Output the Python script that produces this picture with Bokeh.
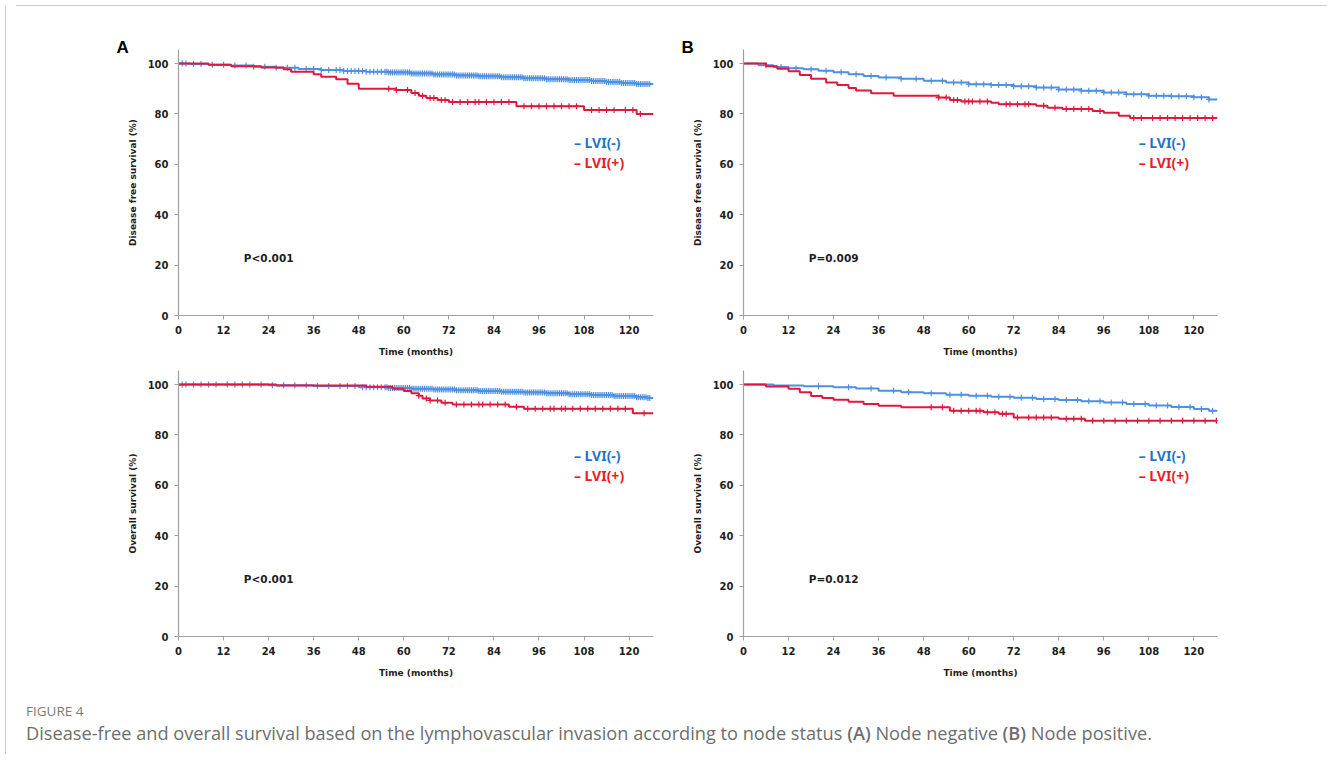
import numpy as np
from bokeh.plotting import figure
from bokeh.models import Range1d, FixedTicker, Label, Div
from bokeh.layouts import row, column
from bokeh.embed import file_html
from bokeh.resources import INLINE

# ---------------- data ----------------
x_ticks = [0, 12, 24, 36, 48, 60, 72, 84, 96, 108, 120]
y_ticks = [0, 20, 40, 60, 80, 100]

# Panel A (node negative) - disease free survival
a_dfs_neg_t = [0, 3, 8, 14, 20, 26, 32, 38, 44, 50, 56, 62, 68, 74, 80, 86, 92, 98, 104, 110, 114, 118, 122, 126.5]
a_dfs_neg_s = [100, 99.8, 99.5, 99.2, 98.8, 98.4, 97.9, 97.5, 97.1, 96.8, 96.5, 96.1, 95.7, 95.3, 95.0, 94.6, 94.2, 93.8, 93.5, 93.1, 92.7, 92.3, 91.9, 91.9]
a_dfs_neg_c = [1, 2, 4, 6, 9, 12, 15, 18, 20, 23, 26, 29, 31, 34, 36, 38, 40, 42, 43, 44, 45, 46, 47, 48, 49, 50, 51, 52, 53, 54,
               55, 55.5, 56, 56.5, 57, 57.5, 58, 58.5, 59, 59.5, 60, 60.5, 61, 61.5, 62, 62.5, 63, 63.5, 64, 64.5,
               65, 65.5, 66, 66.5, 67, 67.5, 68, 68.5, 69, 69.5, 70, 70.5, 71, 71.5, 72, 72.5, 73, 73.5, 74, 74.5,
               75, 75.5, 76, 76.5, 77, 77.5, 78, 78.5, 79, 79.5, 80, 80.5, 81, 81.5, 82, 82.5, 83, 83.5, 84, 84.5,
               85, 85.5, 86, 86.5, 87, 87.5, 88, 88.5, 89, 89.5, 90, 90.5, 91, 91.5, 92, 92.5, 93, 93.5, 94, 94.5,
               95, 95.5, 96, 96.5, 97, 97.5, 98, 98.5, 99, 99.5, 100, 100.5, 101, 101.5, 102, 102.5, 103, 103.5, 104, 104.5,
               105, 105.5, 106, 106.5, 107, 107.5, 108, 108.5, 109, 109.5, 110, 110.5, 111, 111.5, 112, 112.5, 113, 113.5, 114, 114.5,
               115, 115.5, 116, 116.5, 117, 117.5, 118, 118.5, 119, 119.5, 120, 120.5, 121, 121.5, 122, 122.5, 123, 123.5, 124, 124.5, 125, 125.5]
a_dfs_pos_t = [0, 8, 14, 22, 28, 30, 36, 38, 42, 45, 48, 58, 62, 64, 66, 69, 72, 90, 108, 122, 126.5]
a_dfs_pos_s = [100, 99.5, 99, 98.5, 97.8, 96.8, 95.8, 94.8, 93.8, 92, 90, 89.5, 88.3, 87.2, 86.3, 85.6, 84.8, 83.1, 81.6, 80, 80]
a_dfs_pos_c = [56, 58, 61, 63, 65, 67, 68, 70, 71, 73, 75, 77, 79, 80, 82, 84, 86, 88, 92, 94, 96, 98, 100, 102, 104, 106, 110, 112, 114, 116, 119, 121, 123]

# Panel A (node negative) - overall survival
a_os_neg_t = [0, 24, 36, 48, 56, 62, 68, 74, 80, 86, 92, 98, 104, 110, 116, 122, 125, 126.5]
a_os_neg_s = [100, 99.7, 99.4, 99.0, 98.7, 98.4, 98.1, 97.8, 97.5, 97.2, 96.9, 96.6, 96.2, 95.9, 95.5, 95.0, 94.7, 94.7]
a_os_neg_c = [1, 2, 4, 6, 8, 10, 13, 15, 17, 19, 22, 25, 28, 31, 34, 37, 40, 43, 45, 47, 49, 50, 51, 52, 53, 54,
              55, 55.5, 56, 56.5, 57, 57.5, 58, 58.5, 59, 59.5, 60, 60.5, 61, 61.5, 62, 62.5, 63, 63.5, 64, 64.5,
              65, 65.5, 66, 66.5, 67, 67.5, 68, 68.5, 69, 69.5, 70, 70.5, 71, 71.5, 72, 72.5, 73, 73.5, 74, 74.5,
              75, 75.5, 76, 76.5, 77, 77.5, 78, 78.5, 79, 79.5, 80, 80.5, 81, 81.5, 82, 82.5, 83, 83.5, 84, 84.5,
              85, 85.5, 86, 86.5, 87, 87.5, 88, 88.5, 89, 89.5, 90, 90.5, 91, 91.5, 92, 92.5, 93, 93.5, 94, 94.5,
              95, 95.5, 96, 96.5, 97, 97.5, 98, 98.5, 99, 99.5, 100, 100.5, 101, 101.5, 102, 102.5, 103, 103.5, 104, 104.5,
              105, 105.5, 106, 106.5, 107, 107.5, 108, 108.5, 109, 109.5, 110, 110.5, 111, 111.5, 112, 112.5, 113, 113.5, 114, 114.5,
              115, 115.5, 116, 116.5, 117, 117.5, 118, 118.5, 119, 119.5, 120, 120.5, 121, 121.5, 122, 122.5, 123, 123.5, 124, 124.5, 125, 125.5]
a_os_pos_t = [0, 26, 50, 57, 60, 62, 64, 65, 67, 70, 73, 88, 92, 121, 126.5]
a_os_pos_s = [100, 99.6, 99.1, 98.4, 97.5, 96.6, 95.6, 94.5, 93.7, 92.8, 92.1, 91.2, 90.4, 88.6, 88.6]
a_os_pos_c = [64, 66, 67, 69, 71, 74, 76, 78, 80, 81, 83, 85, 87, 90, 93, 95, 97, 99, 100, 102, 103, 105, 107, 109, 111, 113, 115, 117, 119, 124]

# Panel B (node positive) - disease free survival
b_dfs_neg_t = [0, 4, 8, 12, 16, 20, 24, 28, 32, 36, 42, 48, 54, 60, 66, 72, 78, 84, 90, 96, 102, 108, 114, 120, 124, 126.3]
b_dfs_neg_s = [100, 99.3, 98.7, 98.2, 97.8, 97.2, 96.6, 95.8, 95.1, 94.5, 94.0, 93.2, 92.5, 91.8, 91.5, 91.0, 90.5, 89.7, 89.2, 88.5, 87.8, 87.2, 87.0, 86.6, 85.8, 85.8]
b_dfs_neg_c = [6, 10, 14, 18, 22, 26, 30, 34, 38, 42, 46, 50, 53, 56, 58, 60, 62, 64, 66, 68, 70, 72, 74, 76, 78, 80, 82, 84, 86, 88, 90, 92, 94, 96, 98, 100, 102, 104, 106, 108, 110, 112, 114, 116, 118, 120, 122, 124]
b_dfs_pos_t = [0, 6, 9, 12, 15, 18, 22, 25, 28, 30, 34, 40, 52, 55, 58, 66, 68, 78, 81, 85, 93, 96, 100, 103, 126.3]
b_dfs_pos_s = [100, 99, 98, 97, 95.5, 94, 92.5, 91.5, 90.3, 89.3, 88.2, 87.2, 86.5, 85.6, 85.0, 84.5, 83.9, 83.3, 82.5, 82.0, 81.2, 80.5, 79.3, 78.4, 78.4]
b_dfs_pos_c = [52, 54, 56, 57, 59, 60, 61, 63, 65, 70, 71, 73, 75, 76, 80, 83, 86, 88, 90, 92, 95, 104, 106, 109, 111, 113, 115, 117, 119, 121, 123, 125]

# Panel B (node positive) - overall survival
b_os_neg_t = [0, 8, 16, 24, 30, 36, 42, 48, 54, 60, 66, 72, 78, 84, 90, 96, 102, 108, 114, 120, 124, 126.3]
b_os_neg_s = [100, 99.6, 99.3, 99.0, 98.5, 97.6, 97.0, 96.6, 96.0, 95.6, 95.2, 94.8, 94.3, 93.9, 93.4, 92.9, 92.3, 91.7, 91.1, 90.3, 89.6, 89.6]
b_os_neg_c = [20, 28, 34, 40, 44, 50, 55, 58, 62, 65, 68, 71, 74, 77, 80, 83, 86, 89, 92, 95, 98, 101, 104, 107, 110, 113, 116, 119, 122, 125]
b_os_pos_t = [0, 6, 12, 15, 18, 21, 24, 28, 32, 36, 42, 55, 64, 68, 72, 84, 91, 126.3]
b_os_pos_s = [100, 99.2, 98.4, 97, 95.5, 94.7, 94.0, 93.2, 92.3, 91.6, 91.0, 89.6, 89.0, 88.4, 86.9, 86.4, 85.7, 85.7]
b_os_pos_c = [50, 53, 56, 58, 60, 62, 63, 65, 67, 69, 70, 73, 76, 78, 80, 82, 86, 88, 90, 93, 96, 99, 102, 105, 108, 111, 114, 117, 120, 123, 126]

legend_labels = ["\u2013 LVI(-)", "\u2013 LVI(+)"]
p_values = ["P<0.001", "P=0.009", "P<0.001", "P=0.012"]
panel_letters = ["A", "B"]
y_labels = ["Disease free survival (%)", "Overall survival (%)"]
x_label = "Time (months)"

# ---------------- styles ----------------
BLUE = "#4f90e2"
RED = "#e2173d"
BLUE_TXT = "#1f74c8"
RED_TXT = "#ec1c24"
AX = "#a0a0a0"
TICK_FONT = "DejaVu Sans"


def censor_y(t, s, c):
    t = np.asarray(t, float)
    s = np.asarray(s, float)
    idx = np.searchsorted(t, np.asarray(c, float), side="right") - 1
    return s[np.clip(idx, 0, len(s) - 1)]


def panel(width, height, mbl, mbr, mbt, mbb, xend, ylabel, curves, ptext, ly, letter=None):
    p = figure(width=width, height=height, x_range=Range1d(0, xend), y_range=Range1d(0, 105.6),
               output_backend="svg", toolbar_location=None,
               min_border_left=mbl, min_border_right=mbr, min_border_top=mbt, min_border_bottom=mbb)
    p.outline_line_color = None
    p.grid.visible = False
    p.background_fill_color = "white"
    p.border_fill_color = "white"
    for ax in (p.xaxis[0], p.yaxis[0]):
        ax.axis_line_color = AX
        ax.axis_line_width = 1.2
        ax.major_tick_line_color = AX
        ax.major_tick_out = 4
        ax.major_tick_in = 0
        ax.minor_tick_line_color = None
        ax.major_label_text_font = TICK_FONT
        ax.major_label_text_font_style = "bold"
        ax.major_label_text_font_size = "10px"
        ax.major_label_text_color = "#1e1e1e"
        ax.major_label_standoff = 6
        ax.axis_label_text_font = TICK_FONT
        ax.axis_label_text_font_style = "bold"
        ax.axis_label_text_font_size = "9px"
        ax.axis_label_text_color = "#1e1e1e"
    p.xaxis.ticker = FixedTicker(ticks=x_ticks)
    p.yaxis.ticker = FixedTicker(ticks=y_ticks)
    p.xaxis.axis_label = x_label
    p.yaxis.axis_label = ylabel
    p.xaxis.axis_label_standoff = 10
    p.yaxis.axis_label_standoff = 7

    for (t, s, c), col in zip(curves, (BLUE, RED)):
        p.step(x=t, y=s, mode="after", line_color=col, line_width=2)
        p.scatter(x=c, y=censor_y(t, s, c), marker="cross", size=6, line_color=col, line_width=1.2)

    p.add_layout(Label(x=105.3, y=ly[0], text=legend_labels[0], text_color=BLUE_TXT,
                       text_font="Noto Sans", text_font_style="bold", text_font_size="14px",
                       text_baseline="middle"))
    p.add_layout(Label(x=105.3, y=ly[1], text=legend_labels[1], text_color=RED_TXT,
                       text_font="Noto Sans", text_font_style="bold", text_font_size="14px",
                       text_baseline="middle"))
    p.add_layout(Label(x=17.4, y=ly[2], text=ptext, text_color="#1e1e1e",
                       text_font=TICK_FONT, text_font_style="bold", text_font_size="10.5px",
                       text_baseline="middle"))
    if letter:
        p.title.text = letter
        p.title.align = "left"
        p.title.offset = -62
        p.title.standoff = -14
        p.title.text_font = "Liberation Sans"
        p.title.text_font_style = "bold"
        p.title.text_font_size = "17px"
        p.title.text_color = "#000000"
    return p


top_ly = [68.6, 60.6, 22.9]
bot_ly = [71.8, 63.9, 23.0]

fa1 = panel(651, 353, 167, 9, 38, 49, 126.5, y_labels[0],
            [(a_dfs_neg_t, a_dfs_neg_s, a_dfs_neg_c), (a_dfs_pos_t, a_dfs_pos_s, a_dfs_pos_c)],
            p_values[0], top_ly, panel_letters[0])
fb1 = panel(660, 353, 81, 105, 38, 49, 126.3, y_labels[0],
            [(b_dfs_neg_t, b_dfs_neg_s, b_dfs_neg_c), (b_dfs_pos_t, b_dfs_pos_s, b_dfs_pos_c)],
            p_values[1], top_ly, panel_letters[1])
fa2 = panel(651, 328, 167, 9, 6, 56, 126.5, y_labels[1],
            [(a_os_neg_t, a_os_neg_s, a_os_neg_c), (a_os_pos_t, a_os_pos_s, a_os_pos_c)],
            p_values[2], bot_ly)
fb2 = panel(660, 328, 81, 105, 6, 56, 126.3, y_labels[1],
            [(b_os_neg_t, b_os_neg_s, b_os_neg_c), (b_os_pos_t, b_os_pos_s, b_os_pos_c)],
            p_values[3], bot_ly)

caption_html = (
    "<div style=\"position:relative;width:1300px;height:60px;font-family:'Open Sans',sans-serif;\">"
    "<div style=\"position:absolute;left:10px;top:6px;font-size:13.5px;line-height:16px;color:#7a7a7a;\">FIGURE 4</div>"
    "<div style=\"position:absolute;left:10px;top:25px;font-size:18.2px;line-height:22px;color:#6e6e6e;white-space:nowrap;\">"
    "Disease-free and overall survival based on the lymphovascular invasion according to node status "
    "<b style=\"font-weight:600;\">(A)</b> Node negative <b style=\"font-weight:600;\">(B)</b> Node positive.</div></div>"
)
caption = Div(text=caption_html, width=1311, height=66)

hline = Div(text="", width=1311, height=1, styles={"background-color": "#cccccc"})
vline = Div(text="", width=1, height=749, styles={"background-color": "#cccccc"})

layout = row(vline, column(hline, row(fa1, fb1), row(fa2, fb2), caption))

open("out.html", "w").write(file_html(layout, INLINE))
